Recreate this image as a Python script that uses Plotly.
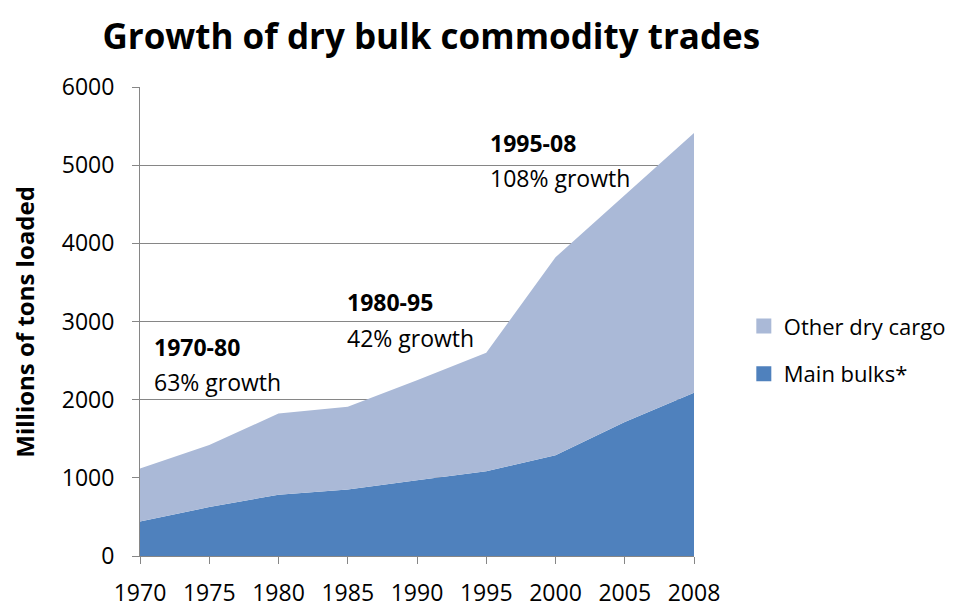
import plotly.graph_objects as go

years = ["1970", "1975", "1980", "1985", "1990", "1995", "2000", "2005", "2008"]
main_bulks = [440, 626, 785, 850, 970, 1085, 1290, 1715, 2090]
total_trade = [1120, 1420, 1822, 1910, 2250, 2600, 3822, 4620, 5410]
other_dry = [t - m for t, m in zip(total_trade, main_bulks)]

FONT = "Open Sans"
DARK = "#4F81BD"
LIGHT = "#AAB9D7"

fig = go.Figure()

# stacked areas (legend drawn with square markers below)
fig.add_trace(go.Scatter(
    x=years, y=main_bulks, name="Main bulks*", showlegend=False,
    mode="lines", stackgroup="one", line=dict(width=0, color=DARK),
    fillcolor=DARK,
))
fig.add_trace(go.Scatter(
    x=years, y=other_dry, name="Other dry cargo", showlegend=False,
    mode="lines", stackgroup="one", line=dict(width=0, color=LIGHT),
    fillcolor=LIGHT,
))

fig.add_trace(go.Scatter(
    x=[None], y=[None], name="Other dry cargo", mode="markers",
    marker=dict(symbol="square", size=15, color=LIGHT), legendgroup="b",
))
fig.add_trace(go.Scatter(
    x=[None], y=[None], name="Main bulks*", mode="markers",
    marker=dict(symbol="square", size=15, color=DARK), legendgroup="a",
))

notes = [
    (0.0217, 2680, "<b>1970-80</b>"),
    (0.0217, 2220, "63% growth"),
    (0.370, 3250, "<b>1980-95</b>"),
    (0.370, 2790, "42% growth"),
    (0.628, 5290, "<b>1995-08</b>"),
    (0.628, 4830, "108% growth"),
]
for x, y, txt in notes:
    fig.add_annotation(
        x=x, xref="paper", y=y, yref="y", text=txt, showarrow=False,
        xanchor="left", yanchor="middle", font=dict(size=23, color="black"),
    )

fig.add_annotation(
    x=-0.209, xref="paper", y=0.5, yref="paper",
    text="<b>Millions of tons loaded</b>", textangle=-90, showarrow=False,
    xanchor="center", yanchor="middle", font=dict(size=24, color="black"),
)

fig.update_layout(
    width=947, height=608,
    margin=dict(l=132, r=261, t=79, b=60),
    paper_bgcolor="white", plot_bgcolor="white",
    font=dict(family=FONT, color="black"),
    title=dict(
        text="<b>Growth of dry bulk commodity trades</b>",
        x=0.447, xanchor="center", y=0.953, yanchor="middle",
        font=dict(size=35, color="black"),
    ),
    legend=dict(
        xref="container", yref="container",
        x=0.777, xanchor="left", y=0.437, yanchor="middle",
        traceorder="grouped", tracegroupgap=16,
        font=dict(size=22), itemwidth=30,
    ),
    xaxis=dict(
        type="category", range=[0, 8], automargin=False,
        showline=True, linecolor="#868686", linewidth=1,
        ticks="outside", ticklen=7, tickcolor="#868686",
        showgrid=False, tickfont=dict(size=23), ticklabelstandoff=9,
    ),
    yaxis=dict(
        range=[0, 6000], tickvals=[0, 1000, 2000, 3000, 4000, 5000, 6000],
        automargin=False,
        showline=True, linecolor="#868686", linewidth=1,
        ticks="outside", ticklen=7, tickcolor="#868686",
        showgrid=True, gridcolor="#868686", gridwidth=1,
        tickfont=dict(size=23), zeroline=False, ticklabelstandoff=13,
    ),
)

fig.write_html("out.html")
